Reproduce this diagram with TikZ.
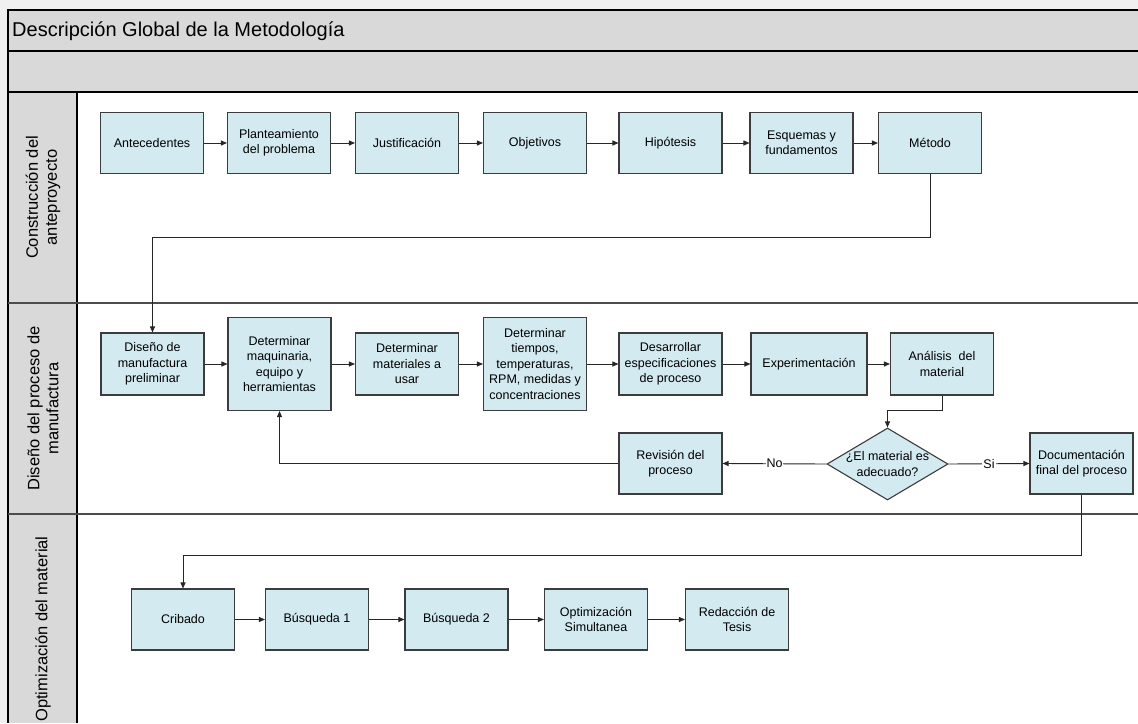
\documentclass[tikz,border=0pt]{standalone}
\usepackage{fontspec}
\setmainfont{Liberation Sans}
\usetikzlibrary{arrows.meta,shapes.geometric}
\definecolor{boxfill}{RGB}{210,234,240}
\definecolor{hdr}{RGB}{217,217,217}
\definecolor{edgecol}{RGB}{60,60,60}
\definecolor{margincol}{RGB}{240,240,240}
\begin{document}
\begin{tikzpicture}[x=1pt,y=-1pt,
  proc/.style={draw=edgecol,line width=1.1pt,fill=boxfill,align=center,minimum width=103pt,minimum height=61pt,inner sep=1pt,font=\fontsize{12.5}{15.5}\selectfont},
  tallproc/.style={proc,minimum height=93pt},
  decision/.style={diamond,draw=edgecol,line width=1.1pt,fill=boxfill,minimum width=121pt,minimum height=72pt,inner sep=0pt},
  dectext/.style={align=center,inner sep=0pt,font=\fontsize{12.5}{15.5}\selectfont},
  flow/.style={draw=black!85,line width=0.9pt,-{Triangle[length=6pt,width=5pt]}},
  lbl/.style={fill=white,inner sep=1pt,font=\fontsize{12.5}{15}\selectfont},
  lanelabel/.style={rotate=90,align=center,font=\fontsize{16.5}{19}\selectfont},
  frameline/.style={line width=1.4pt,draw=black},
  laneline/.style={line width=1.4pt,draw=black!70}
]
\useasboundingbox (0,0) rectangle (1138,723);
% background and frame
\fill[margincol] (0,0) rectangle (1138,723);
\fill[white] (8,10) rectangle (1138,723);
\fill[hdr] (8,10) rectangle (1138,92);
\fill[hdr] (8,92) rectangle (77,723);
\draw[frameline] (1138,10) -- (8,10) -- (8,723);
\draw[frameline] (8,51) -- (1138,51);
\draw[frameline] (8,92) -- (1138,92);
\draw[frameline] (77,92) -- (77,723);
\draw[laneline] (8,303) -- (1138,303);
\draw[laneline] (8,514) -- (1138,514);

\node[anchor=west,inner sep=0pt,font=\fontsize{20}{24}\selectfont] (title) at (12,31) {Descripción Global de la Metodología};

\node[lanelabel] (lane1) at (43,197.5) {Construcción del\\anteproyecto};
\node[lanelabel] (lane2) at (43,408.5) {Diseño del proceso de\\manufactura};
\node[lanelabel] (lane3) at (43,629) {Optimización del material};

% lane 1
\node[proc] (ant) at (152,143) {Antecedentes};
\node[proc] (pla) at (279,143) {Planteamiento\\del problema};
\node[proc] (jus) at (407,143) {Justificación};
\node[proc] (obj) at (535,143) {Objetivos};
\node[proc] (hip) at (670.5,143) {Hipótesis};
\node[proc] (esq) at (801.5,143) {Esquemas y\\fundamentos};
\node[proc] (met) at (930,143) {Método};

% lane 2
\node[proc,minimum height=62pt] (dis) at (152.5,364) {Diseño de\\manufactura\\preliminar};
\node[tallproc] (maq) at (279.5,364) {Determinar\\maquinaria,\\equipo y\\herramientas};
\node[proc,minimum height=62pt] (mat) at (407,364) {Determinar\\materiales a\\usar};
\node[tallproc] (tie) at (535,364) {Determinar\\tiempos,\\temperaturas,\\RPM, medidas y\\concentraciones};
\node[proc,minimum height=62pt] (des) at (670.5,364) {Desarrollar\\especificaciones\\de proceso};
\node[proc,minimum height=62pt,minimum width=116pt] (exp) at (809,364) {Experimentación};
\node[proc,minimum height=62pt] (ana) at (942,364) {Análisis\ \ del\\material};

\node[decision] (dia) at (887.5,464) {};
\node[dectext] (diat) at (dia.center) {¿El material es\\adecuado?};
\node[proc] (rev) at (670.5,463.5) {Revisión del\\proceso};
\node[proc] (doc) at (1081.5,463.5) {Documentación\\final del proceso};

% lane 3
\node[proc] (cri) at (183,619.5) {Cribado};
\node[proc] (bu1) at (317,619.5) {Búsqueda 1};
\node[proc] (bu2) at (456.5,619.5) {Búsqueda 2};
\node[proc] (opt) at (596,619.5) {Optimización\\Simultanea};
\node[proc] (red) at (737,619.5) {Redacción de\\Tesis};

% connectors lane 1
\draw[flow] (ant) -- (pla);
\draw[flow] (pla) -- (jus);
\draw[flow] (jus) -- (obj);
\draw[flow] (obj) -- (hip);
\draw[flow] (hip) -- (esq);
\draw[flow] (esq) -- (met);
\draw[flow] (met.south) -- ++(0,63) -| (dis.north);

% connectors lane 2
\draw[flow] (dis) -- (maq);
\draw[flow] (maq) -- (mat);
\draw[flow] (mat) -- (tie);
\draw[flow] (tie) -- (des);
\draw[flow] (des) -- (exp);
\draw[flow] (exp) -- (ana);
\draw[flow] (ana.south) -- ++(0,15) -| (dia.north);
\draw[flow] (dia.west) -- node[lbl] (no) {No} (rev.east);
\draw[flow] (dia.east) -- node[lbl] (si) {Si} (doc.west);
\draw[flow] (rev.west) -| (maq.south);
\draw[flow] (doc.south) -- ++(0,61) -| (cri.north);

% connectors lane 3
\draw[flow] (cri) -- (bu1);
\draw[flow] (bu1) -- (bu2);
\draw[flow] (bu2) -- (opt);
\draw[flow] (opt) -- (red);
\end{tikzpicture}
\end{document}
